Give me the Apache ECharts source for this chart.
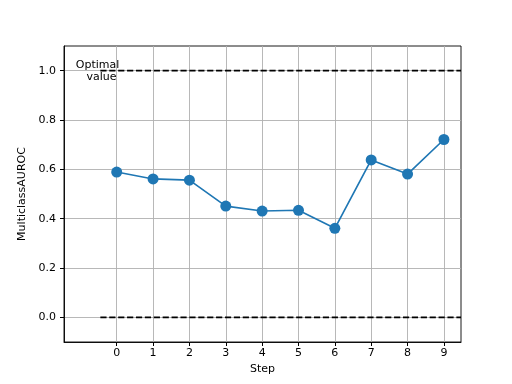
<!DOCTYPE html>
<html><head><meta charset="utf-8">
<script src="https://cdn.jsdelivr.net/npm/echarts@6/dist/echarts.min.js"></script>
<style>html,body{margin:0;padding:0;background:#fff}#c{width:512px;height:384px}</style>
</head><body><div id="c"></div>
<script>
const steps = [0,1,2,3,4,5,6,7,8,9];
const auroc = [0.589,0.561,0.556,0.451,0.431,0.434,0.361,0.638,0.581,0.721];
const xTicks = [0,1,2,3,4,5,6,7,8,9];
const yTicks = [0.0,0.2,0.4,0.6,0.8,1.0];
const optimalValue = 1.0;
const baselineValue = 0.0;
const refLineX = [-0.45, 9.47];

const FONT = 'DejaVu Sans';
const chart = echarts.init(document.getElementById('c'), null, {renderer:'canvas'});
const gridLine = {show:true, lineStyle:{color:'#b0b0b0', width:0.9, type:'solid'}};
const dashStyle = {color:'#000', width:1.67, type:[6.2,2.7]};
const axisLine = {show:true, onZero:false, lineStyle:{color:'#000', width:0.9}};
chart.setOption({
  animation:false,
  backgroundColor:'#fff',
  grid:{left:64, right:51, top:46, bottom:42, show:true, borderColor:'#000', borderWidth:0.9, backgroundColor:'transparent'},
  xAxis:{
    type:'value', min:-1.45, max:9.47,
    name:'Step', nameLocation:'middle', nameGap:22,
    nameTextStyle:{fontFamily:FONT, fontSize:11, color:'#000'},
    axisLine:axisLine,
    axisTick:{show:true, inside:false, length:4, lineStyle:{color:'#000', width:1}, customValues:xTicks},
    axisLabel:{fontFamily:FONT, fontSize:11, color:'#000', margin:6, customValues:xTicks, formatter:v=>String(v)},
    splitLine:gridLine
  },
  yAxis:{
    type:'value', min:-0.1, max:1.1,
    name:'MulticlassAUROC', nameLocation:'middle', nameGap:25,
    nameTextStyle:{fontFamily:FONT, fontSize:11, color:'#000'},
    axisLine:axisLine,
    axisTick:{show:true, inside:false, length:4, lineStyle:{color:'#000', width:1}, customValues:yTicks},
    axisLabel:{fontFamily:FONT, fontSize:11, color:'#000', margin:8, customValues:yTicks, formatter:v=>v.toFixed(1)},
    splitLine:gridLine
  },
  series:[
    {type:'line', data:refLineX.map(x=>[x, optimalValue]), showSymbol:false, symbol:'none', lineStyle:dashStyle, z:3, silent:true},
    {type:'line', data:refLineX.map(x=>[x, baselineValue]), showSymbol:false, symbol:'none', lineStyle:dashStyle, z:3, silent:true},
    {type:'line', data:steps.map((s,i)=>[s, auroc[i]]), symbol:'circle', symbolSize:11,
     lineStyle:{color:'#1f77b4', width:1.67}, itemStyle:{color:'#1f77b4', borderWidth:0}, z:4}
  ],
  graphic:[
    {type:'text', style:{text:'Optimal', x:97.5, y:65, textAlign:'center', textVerticalAlign:'middle', fontFamily:FONT, fontSize:11, fill:'#000'}, z:10},
    {type:'text', style:{text:'value', x:101.5, y:77, textAlign:'center', textVerticalAlign:'middle', fontFamily:FONT, fontSize:11, fill:'#000'}, z:10}
  ]
});
</script></body></html>
